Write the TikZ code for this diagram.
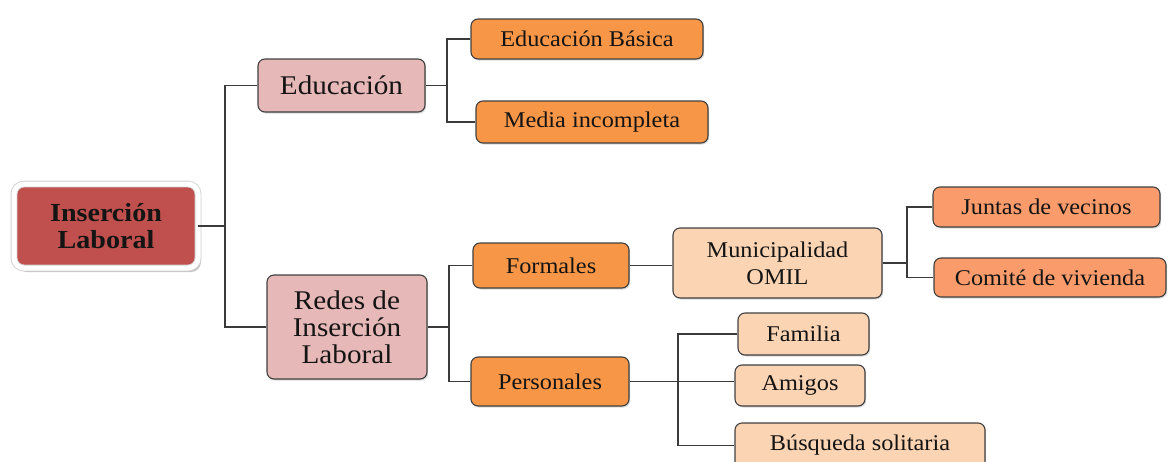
\documentclass[tikz,border=0pt]{standalone}
\usepackage{fontspec}
\setmainfont{Liberation Serif}[FakeStretch=1.08]
\usetikzlibrary{shadows}
\definecolor{insred}{HTML}{C0504D}
\definecolor{pinkb}{HTML}{E6B8B7}
\definecolor{orangeb}{HTML}{F79646}
\definecolor{lightb}{HTML}{FBD4B4}
\definecolor{salmonb}{HTML}{F99B6B}
\definecolor{txt}{HTML}{141414}
\definecolor{linec}{HTML}{3A3A3A}
\tikzset{
  box/.style={rounded corners=7pt, draw=black!75, line width=1.1pt, inner sep=0pt,
    align=center, text=txt,
    drop shadow={shadow xshift=1.2pt, shadow yshift=-1.5pt, fill=black!30}},
  bigtxt/.style={font=\fontsize{27}{27}\selectfont},
  smalltxt/.style={font=\fontsize{22.5}{27}\selectfont},
  conn/.style={draw=linec, line width=1.4pt},
}
\begin{document}
\begin{tikzpicture}[x=1pt,y=-1pt]
\useasboundingbox (0,0) rectangle (1170,461);
% root
\node[rounded corners=10pt, fill=insred, draw=gray!35, double=white, double distance=5pt,
  line width=0.9pt, minimum width=184pt, minimum height=84pt, inner sep=0pt, align=center,
  text=txt, font=\fontsize{26}{27}\selectfont\bfseries,
  drop shadow={shadow xshift=3pt, shadow yshift=-4pt, fill=black!45}]
  (ins) at (106,226) {Inserción\\Laboral};
% level 1
\node[box, bigtxt, fill=pinkb, minimum width=167pt, minimum height=53pt] (edu) at (341.5,85.5) {Educación};
\node[box, bigtxt, fill=pinkb, minimum width=160pt, minimum height=104pt] (redes) at (347,327) {Redes de\\Inserción\\Laboral};
% level 2
\node[box, smalltxt, fill=orangeb, minimum width=232pt, minimum height=40pt] (eb) at (587,39) {Educación Básica};
\node[box, smalltxt, fill=orangeb, minimum width=232pt, minimum height=42pt] (mi) at (592,122) {Media incompleta};
\node[box, smalltxt, fill=orangeb, minimum width=156pt, minimum height=45pt] (form) at (551,265.5) {Formales};
\node[box, smalltxt, fill=orangeb, minimum width=158pt, minimum height=49pt] (pers) at (550,381.5) {Personales};
% level 3
\node[box, smalltxt, fill=lightb, minimum width=209pt, minimum height=70pt] (muni) at (777.5,263) {Municipalidad\\OMIL};
\node[box, smalltxt, fill=salmonb, minimum width=227pt, minimum height=40pt] (juntas) at (1046.5,207) {Juntas de vecinos};
\node[box, smalltxt, fill=salmonb, minimum width=232pt, minimum height=39pt] (comite) at (1050,277.5) {Comité de vivienda};
\node[box, smalltxt, fill=lightb, minimum width=131pt, minimum height=42pt] (fam) at (803.5,334) {Familia};
\node[box, smalltxt, fill=lightb, minimum width=130pt, minimum height=41pt] (ami) at (800,385.5) {Amigos};
\node[box, smalltxt, fill=lightb, minimum width=250pt, minimum height=45pt] (bus) at (860,445.5) {Búsqueda solitaria};
% bus coordinates
\coordinate (b1) at (225,226);
\coordinate (b2) at (447,85.5);
\coordinate (b3) at (449,327);
\coordinate (b4) at (907,263);
\coordinate (b5) at (678,381.5);
% connectors
\draw[conn] (ins.east) -- (b1);
\draw[conn] (edu.west) -| (b1) |- (redes.west);
\draw[conn] (edu.east) -- (b2);
\draw[conn] (eb.west) -| (b2) |- (mi.west);
\draw[conn] (redes.east) -- (b3);
\draw[conn] (form.west) -| (b3) |- (pers.west);
\draw[conn] (form.east) -- (form.east -| muni.west);
\draw[conn] (muni.east) -- (b4);
\draw[conn] (juntas.west) -| (b4) |- (comite.west);
\draw[conn] (pers.east) -- (pers.east -| ami.west);
\draw[conn] (fam.west) -| (b5) |- (bus.west);
\end{tikzpicture}
\end{document}
